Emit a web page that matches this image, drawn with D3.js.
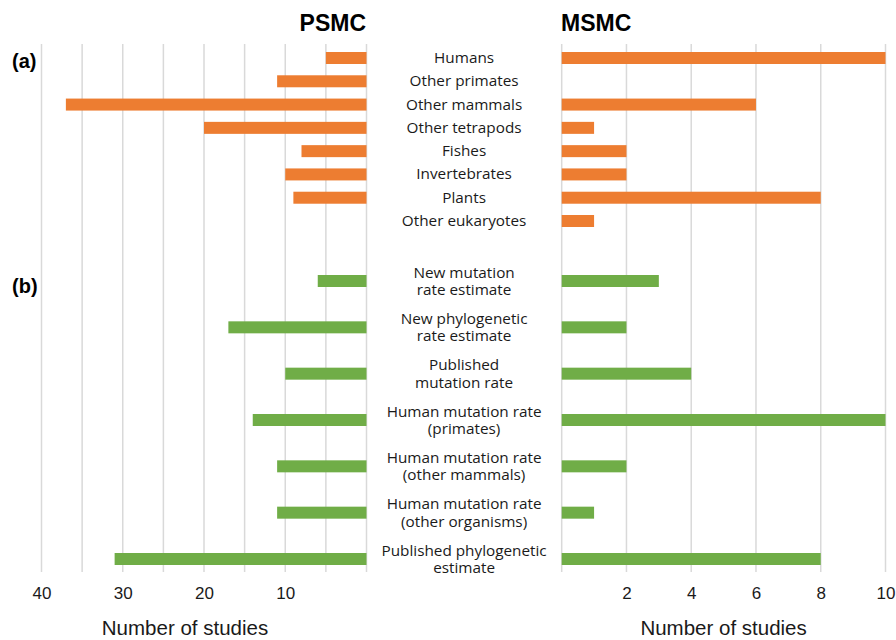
<!DOCTYPE html>
<html>
<head>
<meta charset="utf-8">
<script src="https://cdn.jsdelivr.net/npm/d3@7"></script>
<style>
  body { margin: 0; background: #fff; }
  .tick text { font-family: "Liberation Sans", Arial, sans-serif; font-size: 17px; fill: #1a1a1a; }
  .catLabel { font-family: "Open Sans", sans-serif; font-size: 15.3px; fill: #1a1a1a; }
</style>
</head>
<body>
<div id="chart"></div>
<script>
// (a) study organisms
const groupA = ["Humans", "Other primates", "Other mammals", "Other tetrapods",
                "Fishes", "Invertebrates", "Plants", "Other eukaryotes"];
const psmcA = [5, 11, 37, 20, 8, 10, 9, 0];
const msmcA = [10, 0, 6, 1, 2, 2, 8, 1];

// (b) mutation rate source
const groupB = [
    ["New mutation", "rate estimate"],
    ["New phylogenetic", "rate estimate"],
    ["Published", "mutation rate"],
    ["Human mutation rate", "(primates)"],
    ["Human mutation rate", "(other mammals)"],
    ["Human mutation rate", "(other organisms)"],
    ["Published phylogenetic", "estimate"]
];
const psmcB = [6, 17, 10, 14, 11, 11, 31];
const msmcB = [3, 2, 4, 10, 2, 1, 8];

const psmcTicks = [40, 30, 20, 10];
const msmcTicks = [2, 4, 6, 8, 10];

const width = 896, height = 640;
const gridTop = 44, gridBottom = 572;
const barH = 12;

const svg = d3.select("#chart").append("svg")
    .attr("width", width)
    .attr("height", height);

/* SCALES */
const xLeft = d3.scaleLinear().domain([0, 40]).range([366.5, 41.5]);
const xRight = d3.scaleLinear().domain([0, 10]).range([561.7, 885.5]);

const keysB = groupB.map(d => d.join(" "));
const yA = d3.scalePoint().domain(groupA).range([58, 221]);
const yB = d3.scalePoint().domain(keysB).range([281, 559]);

/* GRIDLINES */
function grid(scale, values) {
    svg.append("g")
        .selectAll("line")
        .data(values)
        .join("line")
        .attr("x1", d => scale(d))
        .attr("x2", d => scale(d))
        .attr("y1", gridTop)
        .attr("y2", gridBottom)
        .attr("stroke", "#d9d9d9")
        .attr("stroke-width", 1.5);
}
grid(xLeft, d3.range(0, 41, 5));
grid(xRight, d3.range(0, 11, 2));

/* BARS */
function bars(data, cats, yScale, xScale, color, left) {
    svg.append("g")
        .selectAll("rect")
        .data(data)
        .join("rect")
        .attr("x", d => left ? xScale(d) : xScale(0))
        .attr("width", d => Math.abs(xScale(d) - xScale(0)))
        .attr("y", (d, i) => yScale(cats[i]) - barH / 2)
        .attr("height", barH)
        .attr("fill", color);
}
const orange = "#ed7d31", green = "#70ad47";
bars(psmcA, groupA, yA, xLeft, orange, true);
bars(msmcA, groupA, yA, xRight, orange, false);
bars(psmcB, keysB, yB, xLeft, green, true);
bars(msmcB, keysB, yB, xRight, green, false);

/* CATEGORY LABELS */
const midX = (xLeft(0) + xRight(0)) / 2;
svg.append("g")
    .selectAll("text")
    .data(groupA)
    .join("text")
    .attr("class", "catLabel")
    .attr("x", midX)
    .attr("y", d => yA(d) + 5)
    .attr("text-anchor", "middle")
    .text(d => d);

const labB = svg.append("g")
    .selectAll("text")
    .data(groupB)
    .join("text")
    .attr("class", "catLabel")
    .attr("text-anchor", "middle")
    .attr("y", (d, i) => yB(keysB[i]) - 3.5);
labB.selectAll("tspan")
    .data(d => d)
    .join("tspan")
    .attr("x", midX)
    .attr("dy", (d, i) => i === 0 ? 0 : 17.4)
    .text(d => d);

/* AXES */
const axisLeft = svg.append("g")
    .attr("transform", `translate(0,${gridBottom})`)
    .call(d3.axisBottom(xLeft).tickValues(psmcTicks).tickSize(0).tickPadding(15));
const axisRight = svg.append("g")
    .attr("transform", `translate(0,${gridBottom})`)
    .call(d3.axisBottom(xRight).tickValues(msmcTicks).tickSize(0).tickPadding(15));
svg.selectAll(".domain").remove();

/* TITLES AND AXIS LABELS */
svg.append("text")
    .attr("x", 366)
    .attr("y", 31)
    .attr("text-anchor", "end")
    .style("font-family", "Liberation Sans, Arial, sans-serif")
    .style("font-weight", "bold")
    .style("font-size", "23px")
    .text("PSMC");

svg.append("text")
    .attr("x", 561)
    .attr("y", 31)
    .style("font-family", "Liberation Sans, Arial, sans-serif")
    .style("font-weight", "bold")
    .style("font-size", "23px")
    .text("MSMC");

svg.selectAll(".panelTag")
    .data([["(a)", 68], ["(b)", 293]])
    .join("text")
    .attr("class", "panelTag")
    .attr("x", 12)
    .attr("y", d => d[1])
    .style("font-family", "Liberation Sans, Arial, sans-serif")
    .style("font-weight", "bold")
    .style("font-size", "20px")
    .text(d => d[0]);

svg.selectAll(".axisLabel")
    .data([185, (xRight(0) + xRight(10)) / 2])
    .join("text")
    .attr("class", "axisLabel")
    .attr("x", d => d)
    .attr("y", 635)
    .attr("text-anchor", "middle")
    .style("font-family", "Liberation Sans, Arial, sans-serif")
    .style("font-size", "20.5px")
    .style("fill", "#1a1a1a")
    .text("Number of studies");
</script>
</body>
</html>
